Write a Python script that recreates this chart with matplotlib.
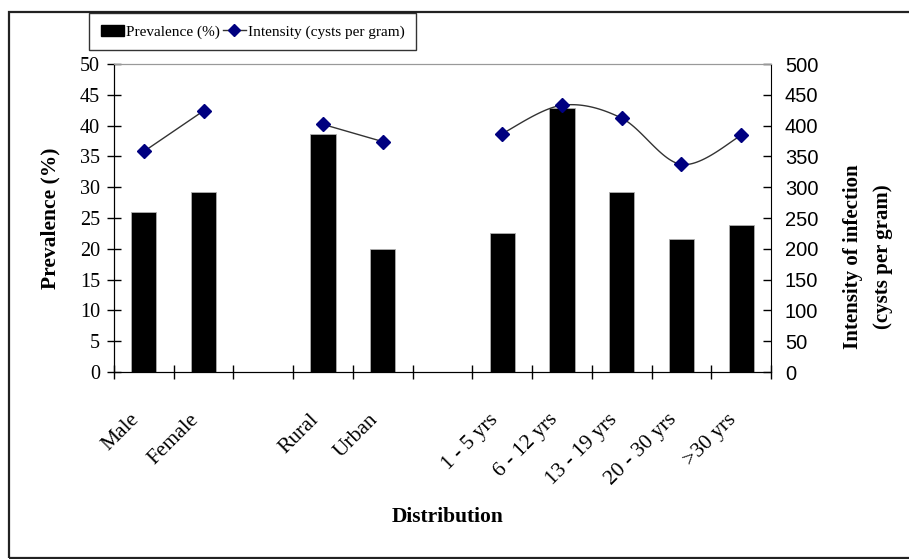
import numpy as np
import matplotlib
matplotlib.use("Agg")
import matplotlib.pyplot as plt
import matplotlib.transforms as mtransforms
from matplotlib.lines import Line2D
from matplotlib.patches import Patch, Rectangle

categories = ["Male", "Female", "", "Rural", "Urban", "",
              "1 - 5 yrs", "6 - 12 yrs", "13 - 19 yrs", "20 - 30 yrs", ">30 yrs"]
prevalence = [26.0, 29.2, None, 38.7, 20.0, None, 22.5, 42.8, 29.2, 21.6, 23.8]
intensity = [358, 424, None, 402, 374, None, 387, 433, 412, 337, 384]

serif = "Liberation Serif"
sans = "Liberation Sans"


def smooth(xs, ys, n=30):
    # Excel-like smoothed line (Catmull-Rom as cubic Bezier)
    pts = np.column_stack([xs, ys]).astype(float)
    if len(pts) < 3:
        return pts[:, 0], pts[:, 1]
    out = [pts[0]]
    t = np.linspace(0, 1, n)[1:, None]
    for i in range(len(pts) - 1):
        p0 = pts[i - 1] if i > 0 else pts[i]
        p1, p2 = pts[i], pts[i + 1]
        p3 = pts[i + 2] if i + 2 < len(pts) else pts[i + 1]
        c1 = p1 + (p2 - p0) / 6
        c2 = p2 - (p3 - p1) / 6
        seg = ((1 - t) ** 3) * p1 + 3 * ((1 - t) ** 2) * t * c1 + 3 * (1 - t) * t ** 2 * c2 + t ** 3 * p2
        out.extend(seg)
    out = np.array(out)
    return out[:, 0], out[:, 1]


fig = plt.figure(figsize=(9.09, 5.59), dpi=100)
ax = fig.add_axes([0.1254, 0.3345, 0.7228, 0.551])
ax2 = ax.twinx()

x = np.arange(len(categories))
bx = [i for i, v in zip(x, prevalence) if v is not None]
bv = [v for v in prevalence if v is not None]
ax.bar(bx, bv, width=0.42, color="black", edgecolor="#b0b0b0", linewidth=0.6, zorder=2)

# line segments split at the gaps
seg_x, seg_y = [], []
for i, v in enumerate(intensity + [None]):
    if v is None:
        if seg_x:
            sx, sy = smooth(seg_x, seg_y)
            ax2.plot(sx, sy, color="#333333", lw=1.0, zorder=3)
            ax2.plot(seg_x, seg_y, ls="none", marker="D", ms=7, color="#000080",
                     markeredgecolor="#000080", zorder=4)
        seg_x, seg_y = [], []
    else:
        seg_x.append(i)
        seg_y.append(v)

ax.set_xlim(-0.5, len(categories) - 0.5)
ax.set_ylim(0, 50)
ax2.set_ylim(0, 500)
ax.set_yticks(np.arange(0, 51, 5))
ax2.set_yticks(np.arange(0, 501, 50))

# tick marks at category boundaries, labels as rotated text under each category
ax.set_xticks(np.arange(-0.5, len(categories), 1))
ax.set_xticklabels([])
shift = mtransforms.ScaledTranslation(-14 / 100, -38 / 100, fig.dpi_scale_trans)
for i, name in enumerate(categories):
    ax.text(i, 0, name, transform=ax.get_xaxis_transform() + shift, rotation=45,
            rotation_mode="anchor", ha="right", va="top", fontfamily=serif, fontsize=15.5)

ax.tick_params(axis="x", which="major", direction="inout", length=10, width=1)
ax.tick_params(axis="y", direction="inout", length=10, width=1, labelsize=14.5, pad=5)
for lab in ax.get_yticklabels():
    lab.set_fontfamily(serif)
ax2.tick_params(axis="y", direction="in", length=6, width=1, labelsize=14.5, pad=10)
for lab in ax2.get_yticklabels():
    lab.set_fontfamily(sans)

for a in (ax, ax2):
    a.spines["top"].set_color("#999999")
    a.spines["left"].set_color("black")
    a.spines["bottom"].set_color("black")
    a.spines["right"].set_color("black")
    a.set_facecolor("none")
ax.spines["right"].set_visible(False)

ax.set_ylabel("Prevalence (%)", fontfamily=serif, fontweight="bold", fontsize=15.5, labelpad=14)
fig.text(0.955, 0.54, "Intensity of infection\n(cysts per gram)", rotation=90,
         fontfamily=serif, fontweight="bold", fontsize=15, ha="center", va="center",
         linespacing=1.7)
fig.text(0.492, 0.075, "Distribution", fontfamily=serif, fontweight="bold", fontsize=15.5,
         ha="center", va="center")

handles = [Patch(facecolor="black", edgecolor="black"),
           Line2D([], [], color="#333333", lw=1, marker="D", ms=6,
                  markerfacecolor="#000080", markeredgecolor="#000080")]
leg = fig.legend(handles, ["Prevalence (%)", "Intensity (cysts per gram)"], ncol=2,
                 loc="center", bbox_to_anchor=(0.278, 0.943), frameon=True, fancybox=False,
                 prop={"family": serif, "size": 11}, handlelength=1.5, handletextpad=0.15,
                 columnspacing=0.2, borderpad=0.75, borderaxespad=0, edgecolor="black")
leg.get_frame().set_linewidth(1.0)

fig.patches.append(Rectangle((0.0099, 0.0018), 1.1, 0.977, transform=fig.transFigure,
                             fill=False, edgecolor="#222222", linewidth=1.6))

fig.savefig("out.png", dpi=100)
